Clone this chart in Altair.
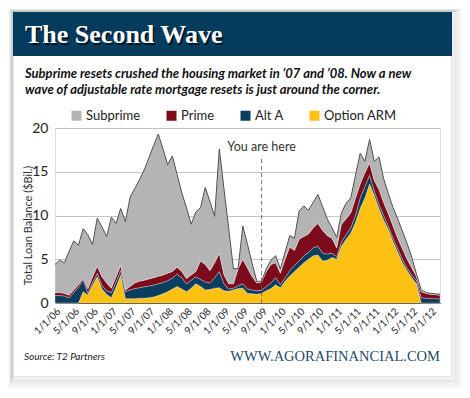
import json
import altair as alt
import pandas as pd

# ---- data (monthly, month 0 = Jan 2006) ----
months = list(range(83))
option_arm = [0, 0, 0, 0, 0, 0,
              1.3, 0.9, 2.0, 3.0, 1.6, 1.0, 0.6, 1.8, 3.2, 0.5,
              0.5, 0.5, 0.55, 0.55, 0.6, 0.7, 0.85, 1.05, 1.3, 1.6,
              1.9, 1.6, 1.3, 1.7, 2.2, 1.9, 1.5, 1.55, 1.7, 1.75,
              1.4, 1.35, 1.5, 1.65, 1.7, 1.1, 1.05, 1.0, 1.1, 1.4,
              1.65, 2.1, 1.75, 2.5, 3.1, 3.6, 4.1, 4.6, 5.0, 5.4,
              5.5, 4.8, 4.9, 5.2, 5.0, 6.5, 7.3, 8.0, 9.2, 10.8,
              12.0, 13.6, 12.3, 10.8, 9.5, 8.4, 7.0, 5.8, 4.6, 3.7,
              2.9, 2.2, 0, 0, 0, 0, 0]
alt_a = [0.85, 0.85, 0.8, 0.6, 1.2, 1.8,
         1.4, 0.2, 0.3, 0.4, 0.4, 0.4, 0.6, 0.6, 0.5, 0.8,
         1.0, 1.15, 1.2, 1.3, 1.35, 1.35, 1.35, 1.3, 1.25, 1.25,
         1.4, 1.3, 0.9, 0.9, 0.8, 0.8, 0.9, 0.75, 1.2, 1.85,
         0.8, 0.25, 0.2, 0.35, 0.5, 0.5, 0.45, 0.4, 0.35, 0.5,
         0.65, 0.8, 0.35, 0.4, 0.6, 0.7, 0.7, 0.8, 0.8, 0.9,
         1.0, 0.9, 0.7, 0.5, 0.3, 0.5, 0.5, 0.6, 0.8, 1.2,
         1.3, 1.0, 0.5, 0.5, 0.5, 0.4, 0.4, 0.4, 0.4, 0.3,
         0.3, 0.4, 0.6, 0.55, 0.5, 0.5, 0.45]
prime = [0.35, 0.35, 0.3, 0.3, 0.3, 0.3,
         0.2, 0.5, 0.7, 0.8, 1.0, 0.9, 0.5, 0.6, 0.6, 0.2,
         0.4, 0.65, 0.75, 0.75, 0.8, 0.85, 0.85, 0.85, 0.85, 0.75,
         0.8, 0.7, 0.6, 0.6, 0.6, 2.1, 2.0, 1.4, 1.7, 2.1,
         1.0, 0.6, 0.5, 1.9, 2.8, 2.4, 1.5, 0.9, 0.95, 1.7,
         2.1, 1.7, 1.3, 2.1, 2.7, 1.7, 2.5, 2.2, 2.1, 2.3,
         2.6, 2.6, 2.1, 1.7, 1.0, 2.0, 1.8, 1.7, 2.0, 1.6,
         1.6, 1.4, 1.2, 1.7, 1.5, 1.4, 1.4, 1.2, 1.2, 1.0,
         0.8, 0.4, 0.7, 0.55, 0.5, 0.45, 0.45]
subprime = [3.2, 3.7, 3.5, 5.0, 5.6, 4.5,
            5.6, 6.2, 3.7, 5.5, 5.7, 5.3, 8.1, 6.1, 6.5, 7.8,
            10.2, 10.8, 11.6, 12.6, 13.85, 15.1, 16.25, 14.4, 12.4, 13.2,
            10.6, 9.0, 8.1, 5.8, 6.8, 6.1, 8.8, 7.9, 5.3, 11.9,
            9.8, 6.3, 1.7, 0.05, 3.8, 2.7, 1.5, 0.15, 0.1, 0.3,
            0.5, 0.8, 0.5, 0.8, 1.3, 1.4, 3.2, 3.5, 2.7, 2.9,
            3.3, 2.7, 1.9, 1.2, 1.2, 1.3, 1.8, 1.7, 2.6, 3.5,
            1.3, 2.7, 2.2, 3.7, 2.7, 2.3, 2.1, 2.2, 2.0, 1.8,
            1.2, 0.3, 0.2, 0.1, 0.1, 0.1, 0.1]

series_names = ["Subprime", "Prime", "Alt A", "Option ARM"]
series_colors = ["#b4b4b4", "#7c0b1c", "#0b3d5e", "#fdc114"]
stack_rank = {"Option ARM": 0, "Alt A": 1, "Prime": 2, "Subprime": 3}

tick_months = list(range(0, 81, 4))
tick_labels = ["1/1/06", "5/1/06", "9/1/06", "1/1/07", "5/1/07", "9/1/07",
               "1/1/08", "5/1/08", "9/1/08", "1/1/09", "5/1/09", "9/1/09",
               "1/1/10", "5/1/10", "9/1/10", "1/1/11", "5/1/11", "9/1/11",
               "1/1/12", "5/1/12", "9/1/12"]
y_ticks = [0, 5, 10, 15, 20]

marker_month = [44]
marker_top = [16.7]
marker_label_y = [17.4]

title_text = "The Second Wave"
subtitle_lines = ["Subprime resets crushed the housing market in \u201907 and \u201908. Now a new",
                  "wave of adjustable rate mortgage resets is just around the corner."]
source_text = "Source: T2 Partners"
site_text = "WWW.AGORAFINANCIAL.COM"

# ---- build table ----
rows = []
for name, vals in [("Option ARM", option_arm), ("Alt A", alt_a),
                   ("Prime", prime), ("Subprime", subprime)]:
    for m, v in zip(months, vals):
        rows.append({"month": m, "series": name, "value": v, "rank": stack_rank[name]})
df = pd.DataFrame(rows)

W, H = 385, 175
FONT = "Lato"

xscale = alt.Scale(domain=[0, 82], nice=False, zero=False)
yscale = alt.Scale(domain=[0, 20], nice=False)

label_expr = json.dumps(tick_labels) + "[round(datum.value / 4)]"

x_axis = alt.Axis(values=tick_months, labelExpr=label_expr, labelAngle=-45,
                  labelAlign="right", labelBaseline="top",
                  labelOverlap=False, labelFlush=False, labelBound=False,
                  title=None, grid=False, ticks=False, domain=True,
                  domainColor="#4a4a3a", domainWidth=1,
                  labelFont=FONT, labelFontSize=10, labelColor="#222222",
                  labelPadding=3)
y_axis = alt.Axis(values=y_ticks, title="Total Loan Balance ($Bil.)",
                  grid=True, gridColor="#c4c4c4", gridWidth=1,
                  domain=False, ticks=False, labelOverlap=False,
                  labelFont=FONT, labelFontSize=14, labelColor="#222222",
                  labelPadding=7,
                  titleFont=FONT, titleFontSize=11, titleFontWeight="normal",
                  titleColor="#333333", titleX=-27, titleY=97,
                  titleAlign="center", titleBaseline="middle")

dummy = pd.DataFrame({"a": [0]})

# decoration: soft shadow rings (stroke only), card border, title bar
shadow_layers = []
for i in range(1, 9):
    shadow_layers.append(
        alt.Chart(dummy).mark_rect(fillOpacity=0, stroke="#000000",
                                   strokeOpacity=0.11 - i * 0.011, strokeWidth=1.2).encode(
            x=alt.value(-42 - i * 0.45), x2=alt.value(397 + i * 1.2 + 1),
            y=alt.value(-116 - i * 0.35), y2=alt.value(249 + i * 1.3 + 1))
    )
card = alt.Chart(dummy).mark_rect(fillOpacity=0, stroke="#c8c8c8", strokeWidth=0.8).encode(
    x=alt.value(-42), x2=alt.value(397), y=alt.value(-116), y2=alt.value(249))
bar = alt.Chart(dummy).mark_rect(color="#053b5c").encode(
    x=alt.value(-42), x2=alt.value(397), y=alt.value(-116), y2=alt.value(-72))
title_shadow = alt.Chart(dummy).mark_text(
    text=title_text, font="Liberation Serif", fontSize=26, fontWeight="bold",
    color="#000000", opacity=0.7, align="left", baseline="alphabetic").encode(
    x=alt.value(-28.5), y=alt.value(-83.5))
title = alt.Chart(dummy).mark_text(
    text=title_text, font="Liberation Serif", fontSize=26, fontWeight="bold",
    color="#ffffff", align="left", baseline="alphabetic").encode(
    x=alt.value(-30), y=alt.value(-85))
sub1 = alt.Chart(dummy).mark_text(
    text=subtitle_lines[0], font=FONT, fontSize=13, fontWeight="bold", fontStyle="italic",
    color="#111111", align="left", baseline="alphabetic").encode(
    x=alt.value(-30), y=alt.value(-50))
sub2 = alt.Chart(dummy).mark_text(
    text=subtitle_lines[1], font=FONT, fontSize=13, fontWeight="bold", fontStyle="italic",
    color="#111111", align="left", baseline="alphabetic").encode(
    x=alt.value(-30), y=alt.value(-34))
source = alt.Chart(dummy).mark_text(
    text=source_text, font=FONT, fontSize=10, fontStyle="italic",
    color="#222222", align="left", baseline="alphabetic").encode(
    x=alt.value(-31), y=alt.value(232))
site = alt.Chart(dummy).mark_text(
    text=site_text, font="Liberation Serif", fontSize=14.5,
    color="#1d4a6a", align="right", baseline="alphabetic").encode(
    x=alt.value(385), y=alt.value(233))

areas = alt.Chart(df).mark_area(
    interpolate="linear", stroke="#ffffff", strokeWidth=0.5, strokeOpacity=0.6
).encode(
    x=alt.X("month:Q", scale=xscale, axis=x_axis),
    y=alt.Y("value:Q", stack="zero", scale=yscale, axis=y_axis),
    color=alt.Color("series:N",
                    scale=alt.Scale(domain=series_names, range=series_colors),
                    legend=alt.Legend(title=None, orient="none", direction="horizontal",
                                      legendX=15, legendY=-19, symbolType="square",
                                      symbolSize=100, symbolStrokeWidth=0,
                                      labelFont=FONT, labelFontSize=13,
                                      labelColor="#222222", labelOffset=3,
                                      columnPadding=24)),
    order=alt.Order("rank:Q", sort="ascending"),
)

top_line = alt.Chart(df).transform_aggregate(
    total="sum(value)", groupby=["month"]
).mark_line(color="#4d4d4d", strokeWidth=1).encode(
    x=alt.X("month:Q", scale=xscale, axis=x_axis),
    y=alt.Y("total:Q", scale=yscale, axis=y_axis),
)

marker_df = pd.DataFrame({"month": marker_month, "top": marker_top,
                          "label_y": marker_label_y, "zero": [0]})
marker = alt.Chart(marker_df).mark_rule(color="#555555", strokeWidth=0.8,
                                        strokeDash=[4, 3]).encode(
    x=alt.X("month:Q", scale=xscale, axis=x_axis),
    y=alt.Y("zero:Q", scale=yscale, axis=y_axis), y2="top:Q")
marker_text = alt.Chart(marker_df).mark_text(
    text="You are here", font=FONT, fontSize=12.5, color="#333333",
    align="center", baseline="alphabetic").encode(
    x=alt.X("month:Q", scale=xscale, axis=x_axis),
    y=alt.Y("label_y:Q", scale=yscale, axis=y_axis))

chart = alt.layer(
    *shadow_layers, card, bar, title_shadow, title, sub1, sub2, source, site,
    areas, top_line, marker, marker_text
).properties(
    width=W, height=H,
    autosize=alt.AutoSizeParams(type="none"),
    padding={"left": 47, "top": 120, "right": 22, "bottom": 85},
).configure_view(stroke=None).configure(background="#ffffff").configure_axisX(
    labelOverlap=False, labelFlush=False
)

chart.save("out.html", embed_options={"renderer": "svg", "actions": False})
